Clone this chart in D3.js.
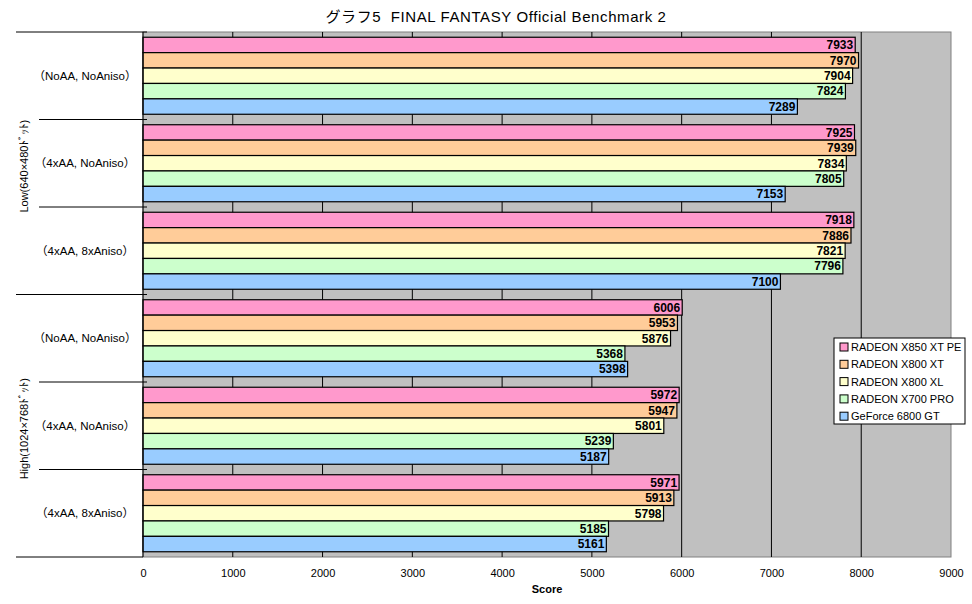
<!DOCTYPE html>
<html>
<head>
<meta charset="utf-8">
<script src="https://cdn.jsdelivr.net/npm/d3@7"></script>
<style>
  body { margin: 0; background: #fff; }
  svg text { font-family: "Liberation Sans", "Noto Sans CJK JP", sans-serif; }
</style>
</head>
<body>
<svg id="chart" width="972" height="604"></svg>
<script>
// chart data
const groups = ["Low(640×480ﾄﾞｯﾄ)", "High(1024×768ﾄﾞｯﾄ)"];
const settings = ["（NoAA, NoAniso）", "（4xAA, NoAniso）", "（4xAA, 8xAniso）"];
const seriesNames = ["RADEON X850 XT PE", "RADEON X800 XT", "RADEON X800 XL", "RADEON X700 PRO", "GeForce 6800 GT"];
const seriesColors = ["#FF99CC", "#FFCC99", "#FFFFCC", "#CCFFCC", "#99CCFF"];
// one row per category (top to bottom), one column per series
const scores = [
    [7933, 7970, 7904, 7824, 7289],
    [7925, 7939, 7834, 7805, 7153],
    [7918, 7886, 7821, 7796, 7100],
    [6006, 5953, 5876, 5368, 5398],
    [5972, 5947, 5801, 5239, 5187],
    [5971, 5913, 5798, 5185, 5161]
];
const xTicks = [0, 1000, 2000, 3000, 4000, 5000, 6000, 7000, 8000, 9000];

class BenchmarkChart {
    constructor(svgElement) {
        this.svg = d3.select(svgElement);
        this.margin = { top: 32, right: 21, bottom: 47, left: 143 };
        this.width = +this.svg.attr("width") - this.margin.left - this.margin.right;
        this.height = +this.svg.attr("height") - this.margin.top - this.margin.bottom;
        this.categories = groups.flatMap(g => settings.map(s => g + "|" + s));
    }

    setupScales() {
        this.x = d3.scaleLinear().domain([0, 9000]).range([0, this.width]);
        this.y = d3.scaleBand().domain(this.categories).range([0, this.height]).padding(0);
        this.yInner = d3.scaleBand().domain(seriesNames).range([0, this.y.bandwidth()])
            .paddingInner(0).paddingOuter(0.34);
        this.g = this.svg.append("g")
            .attr("transform", `translate(${this.margin.left},${this.margin.top})`);
    }

    drawPlotArea() {
        this.g.append("rect")
            .attr("width", this.width).attr("height", this.height)
            .attr("fill", "#C0C0C0").attr("stroke", "#808080");

        this.g.append("g").selectAll("line")
            .data(xTicks.slice(1, -1))
            .enter().append("line")
            .attr("x1", d => this.x(d)).attr("x2", d => this.x(d))
            .attr("y1", 0).attr("y2", this.height)
            .attr("stroke", "#000");
    }

    drawBars() {
        const rows = this.g.selectAll(".cat")
            .data(this.categories.map((c, i) => ({ c, vals: scores[i] })))
            .enter().append("g")
            .attr("class", "cat")
            .attr("transform", d => `translate(0,${this.y(d.c)})`);

        const bars = rows.selectAll(".bar")
            .data(d => d.vals.map((v, i) => ({ v, name: seriesNames[i], color: seriesColors[i] })))
            .enter();

        bars.append("rect")
            .attr("class", "bar")
            .attr("x", 0)
            .attr("y", d => this.yInner(d.name))
            .attr("width", d => this.x(d.v))
            .attr("height", this.yInner.bandwidth())
            .attr("fill", d => d.color)
            .attr("stroke", "#000").attr("stroke-width", 1.2);

        bars.append("text")
            .attr("x", d => this.x(d.v) - 2)
            .attr("y", d => this.yInner(d.name) + this.yInner.bandwidth() / 2)
            .attr("dy", "0.36em")
            .attr("text-anchor", "end")
            .attr("font-size", 12).attr("font-weight", "bold")
            .text(d => d.v);
    }

    drawAxes() {
        // value axis
        const xAxis = this.g.append("g")
            .attr("transform", `translate(0,${this.height})`)
            .call(d3.axisBottom(this.x).tickValues(xTicks).tickFormat(d3.format("d"))
                .tickSize(0).tickPadding(12));
        xAxis.select(".domain").remove();
        xAxis.selectAll("text").attr("font-size", 11).attr("font-family", null).attr("fill", "#000");

        this.g.append("text")
            .attr("x", this.width / 2).attr("y", this.height + 36)
            .attr("text-anchor", "middle")
            .attr("font-size", 11).attr("font-weight", "bold")
            .text("Score");

        // category axis
        this.g.append("line")
            .attr("x1", 0).attr("x2", 0).attr("y1", 0).attr("y2", this.height)
            .attr("stroke", "#000");

        const bounds = d3.range(this.categories.length + 1);
        const step = this.y.step();
        this.g.append("g").selectAll("line")
            .data(bounds)
            .enter().append("line")
            .attr("x1", d => d % settings.length === 0 ? -127 : -104)
            .attr("x2", d => d === bounds.length - 1 ? 0 : 4)
            .attr("y1", d => d * step).attr("y2", d => d * step)
            .attr("stroke", "#000");

        this.g.append("g").selectAll("text")
            .data(this.categories)
            .enter().append("text")
            .attr("x", -58)
            .attr("y", d => this.y(d) + this.y.bandwidth() / 2)
            .attr("dy", "0.36em")
            .attr("text-anchor", "middle")
            .attr("font-size", 11.5)
            .text(d => d.split("|")[1]);

        this.g.append("g").selectAll("text")
            .data(groups)
            .enter().append("text")
            .attr("transform", (d, i) =>
                `translate(-119,${(i * settings.length + settings.length / 2) * step + 3}) rotate(-90)`)
            .attr("dy", "0.36em")
            .attr("text-anchor", "middle")
            .attr("font-size", 11)
            .text(d => d);
    }

    drawLegend() {
        const lg = this.svg.append("g").attr("transform", "translate(834,338)");
        lg.append("rect").attr("width", 131).attr("height", 86)
            .attr("fill", "#fff").attr("stroke", "#000");
        const items = lg.selectAll(".item")
            .data(seriesNames)
            .enter().append("g")
            .attr("transform", (d, i) => `translate(6,${9 + i * 17.3})`);
        items.append("rect")
            .attr("x", 0).attr("y", -4).attr("width", 8).attr("height", 8)
            .attr("fill", (d, i) => seriesColors[i]).attr("stroke", "#000");
        items.append("text")
            .attr("x", 11).attr("dy", "0.36em")
            .attr("font-size", 11)
            .text(d => d);
    }

    drawTitle() {
        this.svg.append("text")
            .attr("x", 496).attr("y", 22)
            .attr("text-anchor", "middle")
            .attr("font-size", 15)
            .attr("letter-spacing", 0.6)
            .text("グラフ5\u00a0\u00a0FINAL FANTASY Official Benchmark 2");
    }

    draw() {
        this.setupScales();
        this.drawPlotArea();
        this.drawBars();
        this.drawAxes();
        this.drawLegend();
        this.drawTitle();
    }
}

new BenchmarkChart("#chart").draw();
</script>
</body>
</html>
